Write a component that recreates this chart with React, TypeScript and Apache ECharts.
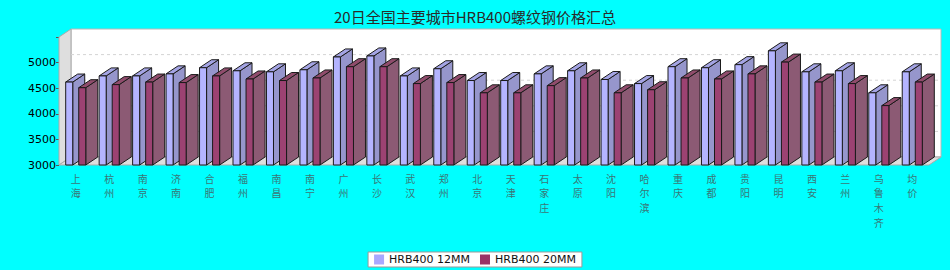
import React, { useEffect, useRef } from "react";
import * as echarts from "echarts";

const title = "20日全国主要城市HRB400螺纹钢价格汇总";
const categories = ["上海", "杭州", "南京", "济南", "合肥", "福州", "南昌", "南宁", "广州", "长沙", "武汉", "郑州", "北京", "天津", "石家庄", "太原", "沈阳", "哈尔滨", "重庆", "成都", "贵阳", "昆明", "西安", "兰州", "乌鲁木齐", "均价"];
const seriesNames = ["HRB400 12MM", "HRB400 20MM"];
const values12 = [4620, 4740, 4740, 4780, 4900, 4840, 4820, 4860, 5110, 5130, 4740, 4880, 4650, 4650, 4780, 4840, 4670, 4590, 4920, 4900, 4960, 5230, 4820, 4840, 4410, 4820];
const values20 = [4510, 4570, 4620, 4610, 4740, 4680, 4650, 4700, 4920, 4920, 4590, 4610, 4410, 4410, 4550, 4700, 4410, 4470, 4700, 4680, 4780, 5010, 4620, 4590, 4160, 4620];
const yTicks = [3000, 3500, 4000, 4500, 5000, 5500];

const DX = 12;
const DY = 8;

const palette = [
  { front: "#b4b4ff", side: "#9696cc", top: "#a4a4e4", legend: "#a8a8ff" },
  { front: "#9c4272", side: "#8c5a74", top: "#904c6c", legend: "#993366" },
];

function makeBarRender(k: number) {
  return (params: any, api: any) => {
    const idx = api.value(0);
    const val = api.value(1);
    const band = api.size([1, 0])[0];
    const center = api.coord([idx, val])[0];
    const top = api.coord([idx, val])[1];
    const base = api.coord([idx, yTicks[0]])[1];
    const w = band * 0.21;
    const off = band * 0.09;
    const x = k === 0 ? center - off - w : center + off;
    const c = palette[k];
    const stroke = { stroke: "#1a1a1a", lineWidth: 1 };
    return {
      type: "group",
      children: [
        {
          type: "polygon",
          shape: { points: [[x + w, top], [x + w + DX, top - DY], [x + w + DX, base - DY], [x + w, base]] },
          style: { fill: c.side, ...stroke },
        },
        {
          type: "polygon",
          shape: { points: [[x, top], [x + DX, top - DY], [x + w + DX, top - DY], [x + w, top]] },
          style: { fill: c.top, ...stroke },
        },
        {
          type: "rect",
          shape: { x, y: top, width: w, height: base - top },
          style: { fill: c.front, ...stroke },
        },
      ],
    };
  };
}

function wallsRender(params: any, api: any) {
  const cs = params.coordSys;
  const x0 = cs.x;
  const y0 = cs.y;
  const x1 = cs.x + cs.width;
  const y1 = cs.y + cs.height;
  const children: any[] = [
    {
      type: "rect",
      shape: { x: x0 + DX, y: y0 - DY, width: cs.width, height: cs.height },
      style: { fill: "#ffffff", stroke: "#b8b8b8", lineWidth: 1 },
    },
    {
      type: "polygon",
      shape: { points: [[x0, y0], [x0 + DX, y0 - DY], [x0 + DX, y1 - DY], [x0, y1]] },
      style: { fill: "#dedede", stroke: "#aaaaaa", lineWidth: 1 },
    },
    {
      type: "polygon",
      shape: { points: [[x0, y1], [x0 + DX, y1 - DY], [x1 + DX, y1 - DY], [x1, y1]] },
      style: { fill: "#dedede", stroke: "#aaaaaa", lineWidth: 1 },
    },
  ];
  yTicks.slice(1, -1).forEach((t) => {
    const y = api.coord([0, t])[1] - DY;
    children.push({
      type: "line",
      shape: { x1: x0 + DX, y1: y, x2: x1 + DX, y2: y },
      style: { stroke: "#d4d4d4", lineWidth: 1, lineDash: [3, 3] },
    });
  });
  return { type: "group", children };
}

export default function App() {
  const ref = useRef<HTMLDivElement>(null);
  useEffect(() => {
    if (!ref.current) return;
    const chart = echarts.init(ref.current, null, { renderer: "svg" });
    chart.setOption({
      animation: false,
      backgroundColor: "#00ffff",
      title: {
        text: title,
        left: "center",
        top: 4,
        textStyle: { fontSize: 15, fontWeight: "normal", color: "#2a2a2a", fontFamily: "Noto Sans CJK SC" },
      },
      legend: {
        data: seriesNames.map((n, i) => ({ name: n, itemStyle: { color: palette[i].legend } })),
        left: "center",
        top: 252,
        itemWidth: 10,
        itemHeight: 10,
        itemGap: 10,
        icon: "rect",
        padding: [2, 6],
        backgroundColor: "#ffffff",
        borderColor: "#999999",
        borderWidth: 1,
        textStyle: { fontSize: 11, color: "#111", fontFamily: "DejaVu Sans" },
      },
      grid: { left: 59, right: 21, top: 37, bottom: 105, containLabel: false },
      xAxis: {
        type: "category",
        data: categories,
        axisLine: { show: false },
        axisTick: { show: false },
        axisLabel: {
          interval: 0,
          margin: 6,
          fontSize: 10,
          lineHeight: 14.6,
          color: "#3a7676",
          fontFamily: "Noto Sans CJK SC",
          formatter: (v: string) => v.split("").join("\n"),
        },
      },
      yAxis: {
        type: "value",
        min: 3000,
        max: 5500,
        interval: 500,
        axisLine: { show: false },
        axisTick: { show: true, length: 3, lineStyle: { color: "#555" } },
        splitLine: { show: false },
        axisLabel: {
          margin: 3,
          fontSize: 11,
          color: "#000",
          fontFamily: "DejaVu Sans",
          formatter: (v: number) => (v === 5500 ? "" : String(v)),
        },
      },
      series: [
        {
          type: "custom",
          name: "walls",
          silent: true,
          clip: false,
          z: 1,
          renderItem: wallsRender,
          data: [[0, yTicks[0]]],
          encode: { x: 0, y: 1 },
        },
        {
          type: "custom",
          name: seriesNames[0],
          clip: false,
          z: 2,
          itemStyle: { color: palette[0].legend },
          renderItem: makeBarRender(0),
          data: values12.map((v, i) => [i, v]),
          encode: { x: 0, y: 1 },
        },
        {
          type: "custom",
          name: seriesNames[1],
          clip: false,
          z: 3,
          itemStyle: { color: palette[1].legend },
          renderItem: makeBarRender(1),
          data: values20.map((v, i) => [i, v]),
          encode: { x: 0, y: 1 },
        },
      ],
    });
    return () => chart.dispose();
  }, []);
  return <div ref={ref} style={{ width: 950, height: 270, position: "absolute", left: 0, top: 0 }} />;
}
